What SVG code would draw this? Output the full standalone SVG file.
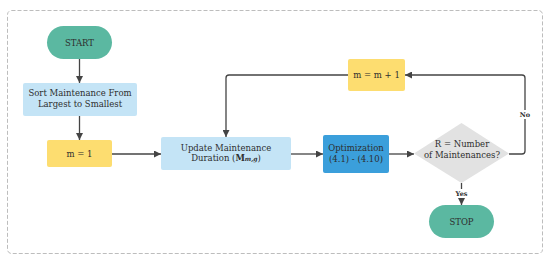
<svg xmlns="http://www.w3.org/2000/svg" width="550" height="261" viewBox="0 0 550 261">
<defs>
<marker id="ah" viewBox="0 0 10 10" refX="10" refY="5" markerWidth="7" markerHeight="7" markerUnits="userSpaceOnUse" orient="auto">
<path d="M0,0 L10,5 L0,10 z" fill="#444"/>
</marker>
</defs>
<style>
text{font-family:"DejaVu Serif","Liberation Serif",serif;font-size:8.5px;fill:#2e2e2e;text-anchor:middle}
.lbl{font-size:6.5px;font-weight:bold}
.c{fill:none;stroke:#444;stroke-width:1.3;marker-end:url(#ah)}
.term{fill:#5bb8a1}
.proc{fill:#c4e4f6}
.var{fill:#fddd70}
.opt{fill:#3b9fdb}
.dec{fill:#e2e2e2}
</style>
<rect x="7.5" y="10.5" width="535" height="243" rx="4" fill="#fff" stroke="#bdbdbd" stroke-width="1" stroke-dasharray="4 2"/>
<g id="connectors">
<path class="c" d="M79.5,59 V83"/>
<path class="c" d="M79.5,116 V140"/>
<path class="c" d="M112,154 H161"/>
<path class="c" d="M291,154 H323"/>
<path class="c" d="M389,154 H414"/>
<path class="c" d="M509,154 H522 Q525,154 525,151 V78 Q525,75 522,75 H405"/>
<path class="c" d="M348,75 H229 Q226,75 226,78 V137"/>
<path class="c" d="M461.5,183 V205"/>
<rect x="518" y="110" width="14" height="9" fill="#fff"/>
<text class="lbl" x="525" y="117">No</text>
<rect x="454" y="189" width="15" height="9" fill="#fff"/>
<text class="lbl" x="461.5" y="196">Yes</text>
</g>
<g id="start">
<rect class="term" x="47" y="26" width="65" height="33" rx="16.5"/>
<text x="79.5" y="45.5">START</text>
</g>
<g id="sort">
<rect class="proc" x="23" y="83" width="114" height="33" rx="2"/>
<text x="80" y="96">Sort Maintenance From</text>
<text x="80" y="107">Largest to Smallest</text>
</g>
<g id="m1">
<rect class="var" x="47" y="140" width="65" height="27" rx="2"/>
<text x="79.5" y="157">m = 1</text>
</g>
<g id="update">
<rect class="proc" x="161" y="137" width="130" height="33" rx="2"/>
<text x="226" y="150.5">Update Maintenance</text>
<text x="226" y="161">Duration (<tspan font-weight="bold">M</tspan><tspan font-weight="bold" font-style="italic" font-size="6px">m,g</tspan>)</text>
</g>
<g id="optimization">
<rect class="opt" x="323" y="135" width="66" height="38" rx="2"/>
<text x="356" y="151">Optimization</text>
<text x="356" y="161.5">(4.1) - (4.10)</text>
</g>
<g id="decision">
<polygon class="dec" points="461.5,123 509,153.5 461.5,183 414,153.5"/>
<text x="462" y="147">R = Number</text>
<text x="462" y="157.5">of Maintenances?</text>
</g>
<g id="increment">
<rect class="var" x="348" y="59" width="57" height="32" rx="2"/>
<text x="376.5" y="78">m = m + 1</text>
</g>
<g id="stop">
<rect class="term" x="429" y="205" width="65" height="33" rx="16.5"/>
<text x="461.5" y="224.5">STOP</text>
</g>
</svg>
